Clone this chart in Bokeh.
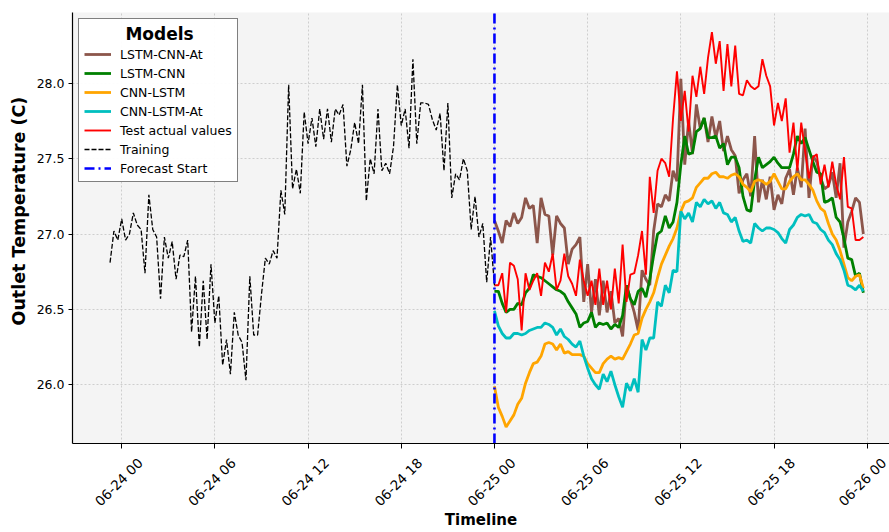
from math import pi

import pandas as pd
from bokeh.embed import file_html
from bokeh.models import (FixedTicker, Legend, LegendItem, NumeralTickFormatter,
                          Range1d, Title)
from bokeh.plotting import figure
from bokeh.resources import INLINE

# ---- data: outlet temperature (C), 15-minute samples ----
train_start = "2023-06-23 23:15"
test_start = "2023-06-25 00:00"

training = [
    26.81, 27.02, 26.96, 27.10, 26.96, 27.00, 27.14, 27.06, 27.03, 26.74,
    27.26, 27.03, 26.98, 26.57, 26.98, 26.84, 26.95, 26.70, 26.86, 26.85,
    26.96, 26.35, 26.72, 26.25, 26.69, 26.30, 26.80, 26.41, 26.59, 26.13,
    26.30, 26.07, 26.48, 26.33, 26.28, 26.03, 26.72, 26.33, 26.33, 26.60,
    26.84, 26.80, 26.89, 26.84, 27.29, 27.13, 27.99, 27.30, 27.43, 27.27,
    27.81, 27.60, 27.77, 27.58, 27.83, 27.63, 27.83, 27.61, 27.83, 27.79,
    27.86, 27.45, 27.56, 27.74, 27.60, 27.99, 27.22, 27.50, 27.40, 27.83,
    27.42, 27.47, 27.40, 27.58, 27.99, 27.72, 27.83, 27.57, 28.16, 27.60,
    27.87, 27.87, 27.86, 27.76, 27.69, 27.80, 27.42, 27.87, 27.24, 27.40,
    27.36, 27.50, 27.42, 27.03, 27.25, 26.98, 27.07, 26.68, 26.98, 26.66,
]

lstm_cnn_at = [
    27.09, 27.02, 26.94, 27.09, 27.05, 27.14, 27.07, 27.11, 27.24, 27.17,
    27.19, 26.94, 27.24, 27.13, 27.12, 26.86, 27.12, 27.07, 27.04, 26.80,
    26.90, 26.93, 26.98, 26.55, 26.80, 26.48, 26.70, 26.46, 26.69, 26.48,
    26.62, 26.41, 26.44, 26.32, 26.66, 26.57, 26.48, 26.36, 26.76, 26.70,
    26.66, 27.02, 27.20, 27.18, 27.26, 27.22, 27.42, 27.35, 28.03, 27.46,
    27.75, 27.53, 27.86, 27.70, 27.77, 27.61, 27.78, 27.64, 27.75, 27.55,
    27.65, 27.56, 27.52, 27.27, 27.36, 27.40, 27.25, 27.65, 27.21, 27.36,
    27.23, 27.38, 27.16, 27.26, 27.20, 27.37, 27.43, 27.26, 27.44, 27.31,
    27.70, 27.24, 27.52, 27.48, 27.37, 27.30, 27.32, 27.41, 27.24, 27.47,
    26.91, 27.08, 27.15, 27.24, 27.21, 27.00,
]

lstm_cnn = [
    26.62, 26.62, 26.54, 26.48, 26.50, 26.50, 26.54, 26.53, 26.61, 26.64,
    26.73, 26.72, 26.71, 26.69, 26.67, 26.65, 26.63, 26.62, 26.60, 26.55,
    26.51, 26.47, 26.38, 26.41, 26.42, 26.48, 26.38, 26.41, 26.40, 26.41,
    26.37, 26.40, 26.38, 26.46, 26.66, 26.57, 26.53, 26.62, 26.64, 26.58,
    26.70, 26.86, 27.00, 27.02, 27.12, 27.04, 27.08, 27.21, 27.46, 27.65,
    27.53, 27.54, 27.68, 27.70, 27.77, 27.64, 27.64, 27.65, 27.57, 27.60,
    27.46, 27.51, 27.51, 27.44, 27.25, 27.16, 27.15, 27.36, 27.51, 27.44,
    27.46, 27.48, 27.51, 27.47, 27.44, 27.44, 27.44, 27.53, 27.65, 27.60,
    27.64, 27.56, 27.48, 27.41, 27.40, 27.21, 27.22, 27.24, 27.11, 27.08,
    26.97, 26.84, 26.83, 26.72, 26.74, 26.61,
]

cnn_lstm = [
    25.99, 25.85, 25.79, 25.72, 25.76, 25.80, 25.87, 25.91, 26.01, 26.08,
    26.14, 26.15, 26.19, 26.27, 26.28, 26.27, 26.23, 26.27, 26.21, 26.22,
    26.20, 26.20, 26.20, 26.19, 26.14, 26.11, 26.08, 26.08, 26.14, 26.17,
    26.19, 26.17, 26.18, 26.17, 26.22, 26.27, 26.33, 26.34, 26.44, 26.50,
    26.55, 26.61, 26.71, 26.80, 26.86, 26.92, 26.97, 27.04, 27.15, 27.21,
    27.22, 27.24, 27.31, 27.34, 27.37, 27.37, 27.40, 27.41, 27.38, 27.38,
    27.37, 27.39, 27.40, 27.38, 27.33, 27.31, 27.28, 27.35, 27.36, 27.35,
    27.33, 27.35, 27.40, 27.35, 27.30, 27.30, 27.35, 27.38, 27.40, 27.36,
    27.36, 27.33, 27.29, 27.22, 27.17, 27.15, 27.07, 27.00, 26.96, 26.89,
    26.80, 26.71, 26.69, 26.72, 26.73, 26.64,
]

cnn_lstm_at = [
    26.49, 26.39, 26.34, 26.31, 26.31, 26.34, 26.34, 26.33, 26.34, 26.36,
    26.37, 26.38, 26.38, 26.41, 26.40, 26.38, 26.33, 26.37, 26.32, 26.30,
    26.27, 26.25, 26.29, 26.19, 26.11, 26.04, 26.00, 25.97, 26.07, 26.02,
    26.09, 26.00, 25.92, 25.85, 26.01, 25.96, 26.04, 25.95, 26.30, 26.23,
    26.31, 26.31, 26.55, 26.52, 26.66, 26.61, 26.76, 26.75, 27.15, 27.10,
    27.14, 27.08, 27.21, 27.18, 27.23, 27.20, 27.22, 27.17, 27.21, 27.14,
    27.13, 27.08, 27.11, 27.02, 26.95, 26.96, 26.94, 27.07, 27.04, 27.02,
    27.04, 27.04, 27.03, 27.01, 26.97, 26.94, 27.03, 27.06, 27.11, 27.13,
    27.12, 27.13, 27.08, 27.07, 27.03, 27.01, 26.96, 26.93, 26.87, 26.83,
    26.76, 26.66, 26.65, 26.63, 26.66, 26.62,
]

test_actual = [
    26.66, 26.66, 26.74, 26.48, 26.81, 26.79, 26.70, 26.36, 26.74, 26.63,
    26.69, 26.74, 26.59, 26.81, 26.75, 26.87, 26.63, 26.69, 26.87, 26.72,
    26.67, 26.59, 26.83, 26.69, 26.59, 26.69, 26.53, 26.77, 26.53, 26.69,
    26.50, 26.77, 26.54, 26.93, 26.55, 26.73, 26.74, 26.86, 27.02, 26.73,
    27.38, 27.14, 27.42, 27.50, 27.47, 27.38, 27.77, 28.08, 27.75, 27.95,
    27.68, 28.05, 27.91, 28.11, 27.93, 28.17, 28.34, 28.13, 28.28, 27.95,
    28.26, 27.98, 28.25, 27.93, 27.92, 28.02, 27.98, 27.96, 27.98, 28.16,
    28.05, 27.98, 27.72, 27.87, 27.75, 27.90, 27.54, 27.74, 27.42, 27.74,
    27.55, 27.37, 27.51, 27.53, 27.33, 27.46, 27.31, 27.48, 27.33, 27.23,
    27.51, 27.18, 27.17, 26.96, 26.96, 26.98,
]

model_names = ["LSTM-CNN-At", "LSTM-CNN", "CNN-LSTM", "CNN-LSTM-At"]
y_ticks = [26.0, 26.5, 27.0, 27.5, 28.0]
tick_times = pd.date_range("2023-06-24 00:00", "2023-06-26 00:00", freq="6h")
tick_labels = [t.strftime("%m-%d %H") for t in tick_times]

x_start = pd.Timestamp("2023-06-23 20:50")
x_end = pd.Timestamp("2023-06-26 01:26")
y_min, y_max = 25.61, 28.47

train_times = pd.date_range(train_start, periods=len(training), freq="15min")
test_times = pd.date_range(test_start, periods=len(test_actual), freq="15min")
forecast_start = pd.Timestamp(test_start)

# ---- figure ----
p = figure(
    width=889, height=532, x_axis_type="datetime",
    x_range=Range1d(x_start.to_pydatetime(), x_end.to_pydatetime()),
    y_range=Range1d(y_min, y_max),
    output_backend="svg", toolbar_location=None,
    min_border_left=72, min_border_right=0, min_border_top=12, min_border_bottom=89,
    background_fill_color="#f4f4f4", border_fill_color="white",
)
p.outline_line_color = None

# x axis: the visible tick marks are drawn as minor ticks at the true
# positions; the rotated date labels hang off invisible major ticks that
# are nudged right so each label ends up centred under its tick mark
tick_ms = [float(v) for v in (tick_times.asi8 // 10**6)]
label_nudge_ms = 71.5 * 60 * 1000
label_ms = [t + label_nudge_ms for t in tick_ms]

xax = p.xaxis[0]
xax.ticker = FixedTicker(ticks=label_ms, minor_ticks=tick_ms)
xax.major_label_overrides = {k: lab for k, lab in zip(label_ms, tick_labels)}
xax.major_label_orientation = pi / 4
xax.major_label_text_font = "DejaVu Sans"
xax.major_label_text_font_size = "13.5px"
xax.major_label_text_color = "black"
xax.major_label_standoff = 12
xax.major_tick_line_color = None
xax.major_tick_out = 5
xax.major_tick_in = 0
xax.minor_tick_line_color = "black"
xax.minor_tick_out = 5
xax.minor_tick_in = 0
xax.axis_label = "Timeline"
xax.axis_label_text_font = "DejaVu Sans"
xax.axis_label_text_font_style = "bold"
xax.axis_label_text_font_size = "15px"
xax.axis_label_text_color = "black"
xax.axis_label_standoff = -7
p.xgrid.ticker = FixedTicker(ticks=tick_ms)

p.yaxis.ticker = FixedTicker(ticks=y_ticks)
p.yaxis.formatter = NumeralTickFormatter(format="0.0")
p.yaxis.major_label_text_font = "DejaVu Sans"
p.yaxis.major_label_text_font_size = "12.5px"
p.yaxis.major_label_text_color = "black"
p.yaxis.major_label_standoff = 4
p.yaxis.major_tick_line_color = "black"
p.yaxis.major_tick_out = 4
p.yaxis.major_tick_in = 0
p.yaxis.minor_tick_line_color = None

# y-axis title, starting a fixed distance above the bottom of the axis
p.add_layout(Title(
    text="Outlet Temperature (C)", align="left", offset=118,
    text_font="DejaVu Sans", text_font_style="bold",
    text_font_size="17.5px", text_color="black",
), "left")

for ax in (p.xaxis, p.yaxis):
    ax.axis_line_color = "black"
    ax.axis_line_width = 1.2

for g in (p.xgrid, p.ygrid):
    g.grid_line_color = "#c4c4c4"
    g.grid_line_dash = "2 2"
    g.grid_line_width = 0.8

# ---- series ----
r_at = p.line(test_times, lstm_cnn_at, line_color="#8c564b", line_width=2.8)
r_lc = p.line(test_times, lstm_cnn, line_color="green", line_width=2.8)
r_cl = p.line(test_times, cnn_lstm, line_color="orange", line_width=2.8)
r_cla = p.line(test_times, cnn_lstm_at, line_color="#00bfbf", line_width=2.8)
r_act = p.line(test_times, test_actual, line_color="red", line_width=1.9)
r_train = p.line(train_times, training, line_color="black", line_width=1.3, line_dash="5 2")
r_fc = p.line([forecast_start, forecast_start], [y_min, y_max],
              line_color="blue", line_width=2.6, line_dash="10 4 2 4")

legend = Legend(
    items=[
        LegendItem(label=model_names[0], renderers=[r_at]),
        LegendItem(label=model_names[1], renderers=[r_lc]),
        LegendItem(label=model_names[2], renderers=[r_cl]),
        LegendItem(label=model_names[3], renderers=[r_cla]),
        LegendItem(label="Test actual values", renderers=[r_act]),
        LegendItem(label="Training", renderers=[r_train]),
        LegendItem(label="Forecast Start", renderers=[r_fc]),
    ],
    location="top_left",
    # non-breaking spaces centre the heading over the entries
    title="\u00a0" * 7 + "Models",
    title_text_font="DejaVu Sans", title_text_font_style="bold",
    title_text_font_size="17px", title_text_color="black", title_standoff=2,
    label_text_font="DejaVu Sans", label_text_font_size="12.5px", label_text_color="black",
    border_line_color="black", border_line_width=1.2,
    background_fill_color="white", background_fill_alpha=0.95,
    padding=5, margin=6, spacing=3, glyph_width=27, glyph_height=16,
    label_height=16, label_standoff=9,
)
p.add_layout(legend)

open("out.html", "w").write(file_html(p, INLINE))
